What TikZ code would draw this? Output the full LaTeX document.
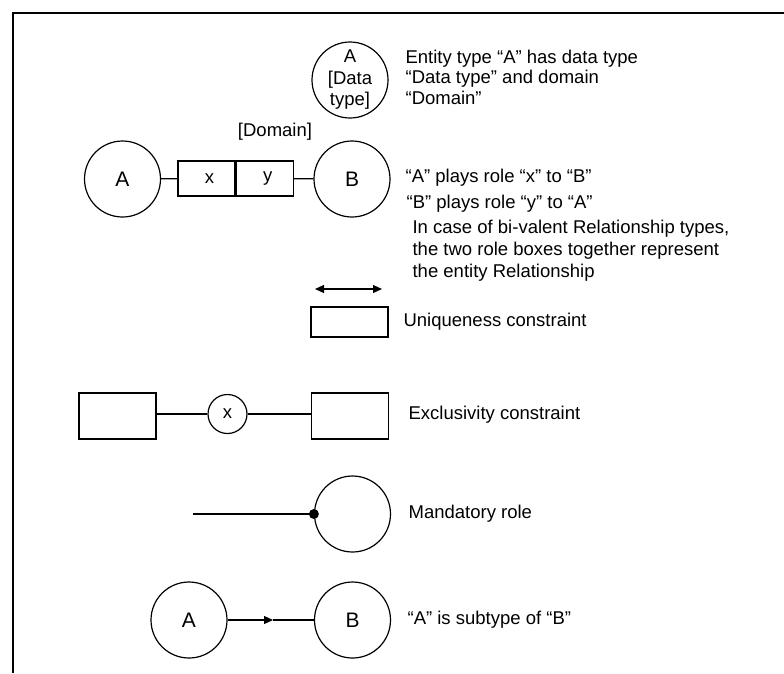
\documentclass[tikz,border=0pt]{standalone}
\usepackage{fontspec}
\setmainfont{Liberation Sans}
\usetikzlibrary{arrows.meta, positioning}
\tikzset{
  entity/.style={draw, circle, minimum size=76pt, inner sep=0pt, font=\fontsize{21}{24}\selectfont},
  rolebox/.style={draw, rectangle, minimum width=57pt, minimum height=35pt, inner sep=0pt},
  conbox/.style={draw, rectangle, minimum width=77pt, minimum height=46pt, inner sep=0pt},
  note/.style={anchor=west, inner sep=0pt, align=left},
  Head/.tip={Triangle[length=9pt, width=8pt]}
}
\begin{document}
\begin{tikzpicture}[x=1pt, y=-1pt, line width=1.2pt, font=\fontsize{18.5}{22}\selectfont]
    \useasboundingbox (0,0) rectangle (784,673);
    \draw[line width=2pt] (13,673) -- (13,13) -- (784,13);

    \node[entity, align=center, font=\fontsize{18.5}{21.5}\selectfont] (dt) at (350,80) {A\\{[}Data\\type{]}};
    \node[note, font=\fontsize{18.5}{20.5}\selectfont] (dtnote) at (405,77)
      {Entity type “A” has data type\\“Data type” and domain\\“Domain”};

    \node[entity] (a) at (122.5,179) {A};
    \node[rolebox] (x) at (206.5,178.5) {\hspace{6pt}x};
    \node[rolebox, right=0pt of x] (y) {\hspace{6pt}y};
    \node[entity] (b) at (352,179) {B};
    \node (dom) at (275,132) {{[}Domain{]}};
    \draw (a) -- (x);
    \draw (y) -- (b);
    \node[note] (role1) at (405,178) {“A” plays role “x” to “B”};
    \node[note] (role2) at (406,204) {“B” plays role “y” to “A”};
    \node[note] (role3) at (412,251)
      {In case of bi-valent Relationship types,\\the two role boxes together represent\\the entity Relationship};

    \coordinate (ul) at (315,289);
    \coordinate (ur) at (382,289);
    \draw[Head-Head] (ul) -- (ur);
    \node[draw, minimum width=77pt, minimum height=30pt, inner sep=0pt] (uq) at (349.5,322) {};
    \node[note] (uqnote) at (403,322) {Uniqueness constraint};

    \node[conbox] (ex1) at (117.5,416) {};
    \node[draw, circle, minimum size=39pt, inner sep=0pt] (xo) at (227.5,414) {x};
    \node[conbox] (ex2) at (350,416) {};
    \draw (ex1.east |- xo) -- (xo);
    \draw (xo) -- (ex2.west |- xo);
    \node[note] (exnote) at (408,415) {Exclusivity constraint};

    \node[entity] (mr) at (352.5,514) {};
    \coordinate (ms) at (193,514);
    \draw (ms) -- (mr.west);
    \fill (mr.west) circle (5pt);
    \node[note] (mrnote) at (408,514) {Mandatory role};

    \node[entity] (sa) at (189,620) {A};
    \node[entity] (sb) at (352.5,620) {B};
    \coordinate (mid) at (273,620);
    \draw[-Head] (sa) -- (mid);
    \draw (mid) -- (sb);
    \node[note] (stnote) at (407,620) {“A” is subtype of “B”};
\end{tikzpicture}
\end{document}
